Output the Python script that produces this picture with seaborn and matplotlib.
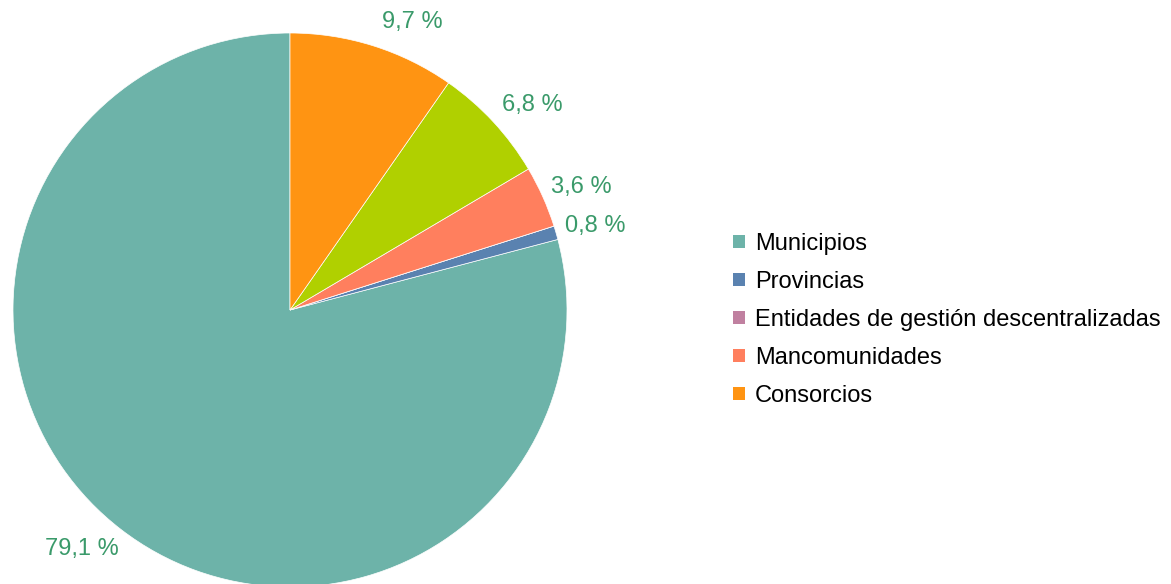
import matplotlib
matplotlib.use("Agg")
import numpy as np
import matplotlib.pyplot as plt
import matplotlib.patches as mpatches
import seaborn as sns

sns.set_style("white")
plt.rcParams["font.family"] = ["Liberation Sans", "DejaVu Sans"]
plt.rcParams["text.color"] = "black"

# ── data ──
categories = ["Municipios", "Provincias", "Entidades de gestión descentralizadas",
              "Mancomunidades", "Otros", "Consorcios"]
shares = [79.1, 0.8, 0.0, 3.6, 6.8, 9.7]
pct_labels = ["79,1 %", "0,8 %", "", "3,6 %", "6,8 %", "9,7 %"]
in_legend = [True, True, True, True, False, True]

colors = ["#6db3a9", "#5a82b0", "#c080a0", "#ff7f5e", "#b0d000", "#ff9412"]
label_color = "#3a9a6a"

fig = plt.figure(figsize=(11.71, 5.84), dpi=100)
W, H = 1171, 584
cx, cy, r = 290, 310, 277
ax = fig.add_axes([(cx - r) / W, (H - cy - r) / H, 2 * r / W, 2 * r / H])

wedges, _ = ax.pie(shares, colors=colors, startangle=90, counterclock=True,
                   radius=1.0, wedgeprops={"linewidth": 0.5, "edgecolor": "white"})

# labels just outside the rim, excel style
for w, lab in zip(wedges, pct_labels):
    if not lab:
        continue
    ang = np.deg2rad((w.theta1 + w.theta2) / 2)
    c, s = np.cos(ang), np.sin(ang)
    x = c + np.sign(c) * 0.14
    y = s + 0.09 * s
    ax.text(x, y, lab, ha="center", va="center", color=label_color, fontsize=17)

ax.set_xlim(-1, 1)
ax.set_ylim(-1, 1)
ax.set_aspect("equal")
ax.axis("off")

handles = [mpatches.Patch(facecolor=c, edgecolor="none", label=n)
           for n, c, keep in zip(categories, colors, in_legend) if keep]
fig.legend(handles=handles, loc="center left", bbox_to_anchor=(724 / W, 1 - 320 / H),
           frameon=False, fontsize=17, handlelength=0.5, handleheight=0.5,
           handletextpad=0.42, labelspacing=0.68, borderaxespad=0)

fig.savefig("out.png", dpi=100)
